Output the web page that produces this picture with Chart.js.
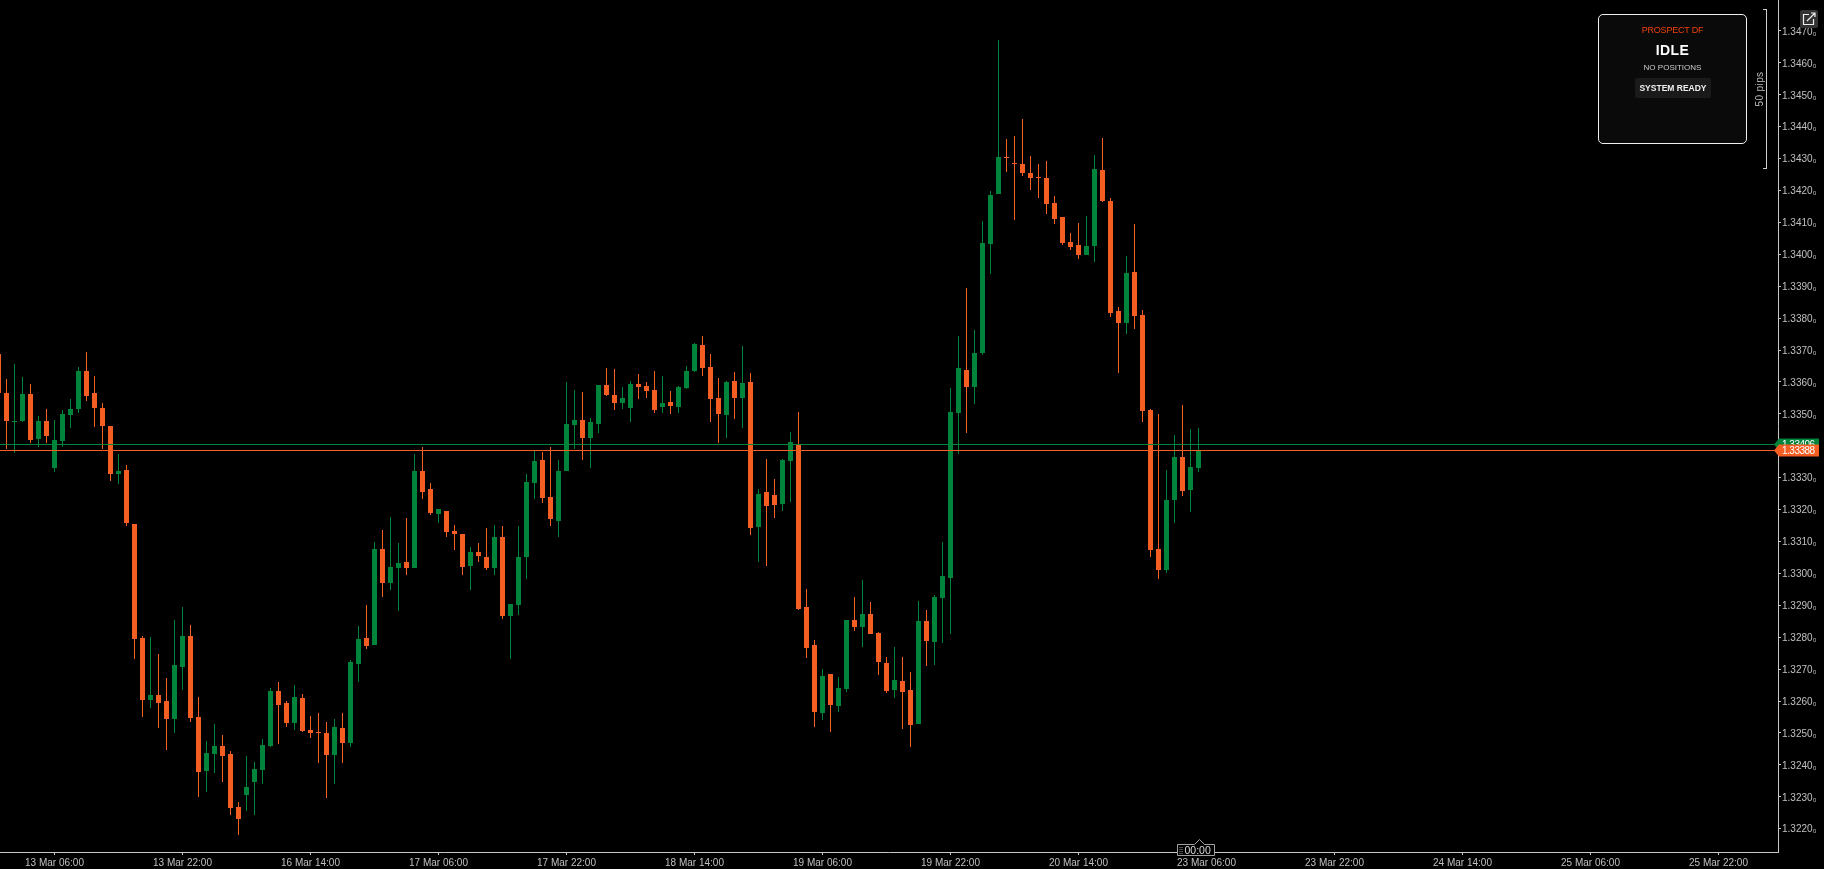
<!DOCTYPE html>
<html>
<head>
<meta charset="utf-8">
<title>Prospect DF</title>
<script src="https://cdn.jsdelivr.net/npm/chart.js@4/dist/chart.umd.js"></script>
<style>
  html, body { margin: 0; padding: 0; background: #000; overflow: hidden; }
  #wrap { position: relative; width: 1824px; height: 869px; font-family: "Liberation Sans", Arial, sans-serif; }
  canvas { display: block; }
  #panel { position: absolute; left: 1598px; top: 14px; width: 147px; height: 128px; background: #0a0a0a;
           border: 1px solid #f0f0f0; border-radius: 5px; text-align: center; }
  #panel div { position: absolute; left: 0; right: 0; white-space: nowrap; }
  #pTitle { top: 9px; font-size: 9px; letter-spacing: -.2px; color: #f0420c; line-height: 12px; }
  #pState { top: 27px; font-size: 14px; font-weight: bold; color: #fff; line-height: 16px; letter-spacing: .4px; }
  #pPos { top: 48px; font-size: 8px; color: #ccc; line-height: 10px; }
  #panel #pReady { left: 36px; right: auto; width: 76px; top: 63px; height: 20px; line-height: 20px; background: #1a1a1a;
            border-radius: 2px; font-size: 8.5px; font-weight: bold; color: #f0f0f0; }
  #bracket { position: absolute; left: 1763px; top: 9px; width: 3px; height: 158px; border: 1px solid #ccc; border-left: 0; }
  #pips { position: absolute; left: 1740px; top: 83px; width: 40px; text-align: center; font-size: 10px; color: #bbb;
          transform: rotate(-90deg); letter-spacing: .4px; line-height: 12px; }
  #expand { position: absolute; left: 1800px; top: 10px; }
</style>
</head>
<body>
<div id="wrap">
  <canvas id="chart" width="1824" height="869"></canvas>
  <div id="panel">
    <div id="pTitle">PROSPECT DF</div>
    <div id="pState">IDLE</div>
    <div id="pPos">NO POSITIONS</div>
    <div id="pReady">SYSTEM READY</div>
  </div>
  <div id="bracket"></div>
  <div id="pips">50 pips</div>
  <svg id="expand" width="18" height="18" viewBox="0 0 18 18">
    <rect width="18" height="18" rx="2" fill="#333"/>
    <path d="M9 4.5H3.5V14.5H13.5V9" fill="none" stroke="#eee" stroke-width="1.2"/>
    <path d="M7 11L14.5 3.5M11 3H15V7" fill="none" stroke="#eee" stroke-width="1.2"/>
  </svg>
</div>
<script>
const opens = [
  1.33687,1.33565,1.33474,1.33477,1.33562,1.33421,1.33477,1.33331,1.33415,1.33496,
  1.33515,1.33634,1.33565,1.33518,1.33462,1.33312,1.33324,1.33155,1.32798,1.32603,
  1.32619,1.32600,1.32543,1.32707,1.32804,1.32550,1.32381,1.32434,1.32459,1.32434,
  1.32268,1.32306,1.32347,1.32384,1.32459,1.32631,1.32594,1.32531,1.32609,1.32509,
  1.32503,1.32500,1.32431,1.32515,1.32469,1.32716,1.32798,1.32776,1.33076,1.32970,
  1.33017,1.33035,1.33017,1.33321,1.33265,1.33186,1.33196,1.33133,1.33124,1.33023,
  1.33067,1.33051,1.33017,1.33114,1.32867,1.32901,1.33051,1.33283,1.33356,1.33239,
  1.33164,1.33321,1.33465,1.33480,1.33424,1.33468,1.33590,1.33559,1.33534,1.33518,
  1.33593,1.33587,1.33574,1.33521,1.33537,1.33521,1.33581,1.33634,1.33716,1.33647,
  1.33549,1.33496,1.33603,1.33549,1.33599,1.33146,1.33255,1.33246,1.33217,1.33352,
  1.33403,1.32895,1.32776,1.32562,1.32685,1.32584,1.32638,1.32854,1.32832,1.32873,
  1.32814,1.32719,1.32635,1.32663,1.32635,1.32528,1.32851,1.32785,1.32923,1.32986,
  1.33502,1.33637,1.33584,1.33691,1.34032,1.34189,1.34305,1.34286,1.34283,1.34255,
  1.34242,1.34239,1.34161,1.34117,1.34038,1.34029,1.33998,1.34026,1.34264,1.34167,
  1.33822,1.33785,1.33944,1.33810,1.33512,1.33076,1.33010,1.33230,1.33365,1.33261,1.33331
];
const highs = [
  1.33700,1.33609,1.33656,1.33615,1.33593,1.33493,1.33515,1.33480,1.33512,1.33546,
  1.33647,1.33694,1.33618,1.33534,1.33462,1.33374,1.33340,1.33155,1.32804,1.32801,
  1.32747,1.32672,1.32854,1.32895,1.32839,1.32612,1.32475,1.32528,1.32494,1.32444,
  1.32284,1.32428,1.32409,1.32481,1.32641,1.32660,1.32600,1.32650,1.32622,1.32553,
  1.32562,1.32534,1.32543,1.32562,1.32729,1.32836,1.32901,1.33098,1.33136,1.33177,
  1.33095,1.33174,1.33374,1.33396,1.33283,1.33202,1.33196,1.33152,1.33124,1.33082,
  1.33095,1.33142,1.33152,1.33149,1.32904,1.33149,1.33312,1.33384,1.33381,1.33396,
  1.33356,1.33599,1.33574,1.33568,1.33487,1.33590,1.33644,1.33641,1.33584,1.33603,
  1.33625,1.33599,1.33634,1.33618,1.33571,1.33587,1.33650,1.33722,1.33744,1.33687,
  1.33612,1.33603,1.33631,1.33713,1.33628,1.33265,1.33359,1.33296,1.33359,1.33443,
  1.33506,1.32951,1.32792,1.32700,1.32685,1.32675,1.32854,1.32926,1.32979,1.32911,
  1.32817,1.32738,1.32769,1.32738,1.32691,1.32914,1.32886,1.32932,1.33098,1.33581,
  1.33744,1.33894,1.33763,1.34104,1.34198,1.34672,1.34362,1.34371,1.34424,1.34308,
  1.34283,1.34292,1.34183,1.34117,1.34067,1.34098,1.34120,1.34311,1.34365,1.34176,
  1.33835,1.33995,1.34095,1.33825,1.33515,1.33499,1.33324,1.33434,1.33528,1.33453,1.33456
];
const lows = [
  1.33543,1.33390,1.33378,1.33474,1.33409,1.33396,1.33409,1.33318,1.33396,1.33456,
  1.33502,1.33540,1.33459,1.33390,1.33290,1.33280,1.33149,1.32732,1.32550,1.32578,
  1.32515,1.32447,1.32500,1.32635,1.32534,1.32300,1.32315,1.32375,1.32347,1.32243,
  1.32180,1.32256,1.32243,1.32340,1.32456,1.32466,1.32518,1.32509,1.32503,1.32484,
  1.32406,1.32296,1.32340,1.32406,1.32456,1.32660,1.32763,1.32776,1.32926,1.32948,
  1.32883,1.32995,1.33017,1.33233,1.33183,1.33158,1.33114,1.33073,1.32995,1.32948,
  1.33035,1.33010,1.32995,1.32857,1.32732,1.32870,1.32983,1.33233,1.33220,1.33149,
  1.33114,1.33321,1.33390,1.33356,1.33331,1.33440,1.33556,1.33512,1.33515,1.33474,
  1.33546,1.33549,1.33502,1.33502,1.33499,1.33502,1.33578,1.33631,1.33618,1.33474,
  1.33409,1.33424,1.33484,1.33456,1.33120,1.33035,1.33023,1.33174,1.33196,1.33223,
  1.32886,1.32735,1.32518,1.32540,1.32503,1.32565,1.32628,1.32820,1.32769,1.32811,
  1.32682,1.32625,1.32609,1.32512,1.32456,1.32528,1.32710,1.32713,1.32782,1.32811,
  1.33374,1.33440,1.33531,1.33685,1.33938,1.34189,1.34258,1.34108,1.34245,1.34202,
  1.34176,1.34126,1.34095,1.34029,1.34013,1.33985,1.33998,1.33976,1.34164,1.33804,
  1.33628,1.33750,1.33766,1.33474,1.33051,1.32983,1.33001,1.33158,1.33242,1.33192,1.33318
];
const closes = [
  1.33565,1.33477,1.33477,1.33562,1.33418,1.33477,1.33431,1.33418,1.33499,1.33515,
  1.33634,1.33556,1.33518,1.33462,1.33312,1.33321,1.33158,1.32795,1.32603,1.32619,
  1.32594,1.32543,1.32713,1.32804,1.32547,1.32378,1.32437,1.32459,1.32428,1.32265,
  1.32231,1.32331,1.32387,1.32463,1.32631,1.32587,1.32531,1.32612,1.32506,1.32500,
  1.32500,1.32431,1.32518,1.32469,1.32722,1.32795,1.32772,1.33076,1.32970,1.33020,
  1.33032,1.33017,1.33321,1.33255,1.33189,1.33202,1.33130,1.33124,1.33020,1.33067,
  1.33054,1.33017,1.33114,1.32867,1.32904,1.33051,1.33287,1.33352,1.33236,1.33171,
  1.33321,1.33468,1.33480,1.33424,1.33474,1.33590,1.33559,1.33534,1.33549,1.33593,
  1.33584,1.33571,1.33512,1.33534,1.33525,1.33584,1.33634,1.33719,1.33644,1.33546,
  1.33499,1.33599,1.33549,1.33596,1.33142,1.33249,1.33211,1.33214,1.33356,1.33412,
  1.32889,1.32766,1.32565,1.32679,1.32587,1.32641,1.32854,1.32832,1.32873,1.32811,
  1.32722,1.32631,1.32666,1.32628,1.32525,1.32851,1.32789,1.32926,1.32992,1.33506,
  1.33644,1.33584,1.33691,1.34035,1.34186,1.34305,1.34302,1.34283,1.34255,1.34239,
  1.34239,1.34158,1.34111,1.34035,1.34023,1.33998,1.34026,1.34267,1.34167,1.33816,
  1.33785,1.33941,1.33807,1.33509,1.33073,1.33010,1.33230,1.33365,1.33258,1.33334,1.33388
];

const xTickLabels = ['13 Mar 06:00', '13 Mar 22:00', '16 Mar 14:00', '17 Mar 06:00', '17 Mar 22:00', '18 Mar 14:00',
  '19 Mar 06:00', '19 Mar 22:00', '20 Mar 14:00', '23 Mar 06:00', '23 Mar 22:00', '24 Mar 14:00', '25 Mar 06:00', '25 Mar 22:00'];
const xTickIndexes = [7, 23, 39, 55, 71, 87, 103, 119, 135, 151, 167, 183, 199, 215];
const yTicks = [1.322, 1.323, 1.324, 1.325, 1.326, 1.327, 1.328, 1.329, 1.33, 1.331, 1.332, 1.333, 1.334,
  1.335, 1.336, 1.337, 1.338, 1.339, 1.34, 1.341, 1.342, 1.343, 1.344, 1.345, 1.346, 1.347];

const askPrice = 1.33406;
const bidPrice = 1.33388;
const lastBarTime = '00:00';

const GREEN = '#00843b';
const ORANGE = '#f45e23';
const AXIS = '#c8c8c8';
const LABEL = '#c0c0c0';

const colors = closes.map((c, i) => (c >= opens[i] ? GREEN : ORANGE));

function priceTag(ctx, y, color, text) {
  ctx.fillStyle = color;
  ctx.beginPath();
  ctx.moveTo(1774, y);
  ctx.lineTo(1779, y - 6);
  ctx.lineTo(1819, y - 6);
  ctx.lineTo(1819, y + 6);
  ctx.lineTo(1779, y + 6);
  ctx.closePath();
  ctx.fill();
  ctx.fillStyle = '#fff';
  ctx.font = '10px "Liberation Sans"';
  ctx.letterSpacing = '-0.5px';
  ctx.textAlign = 'left';
  ctx.textBaseline = 'middle';
  ctx.fillText(text, 1782, y + 0.5);
  ctx.letterSpacing = '0px';
}

const chartOverlay = {
  id: 'chartOverlay',
  // snap candles to whole pixels, the original is not antialiased
  beforeDatasetsDraw(chart) {
    chart.getSortedVisibleDatasetMetas().forEach(meta => {
      meta.data.forEach(bar => {
        bar.y = Math.round(bar.y);
        bar.base = Math.round(bar.base);
        if (bar.y === bar.base) bar.base += 1;
      });
    });
  },
  afterDatasetsDraw(chart) {
    const ctx = chart.ctx;
    const yScale = chart.scales.y;
    const area = chart.chartArea;
    ctx.save();
    [[askPrice, GREEN], [bidPrice, ORANGE]].forEach(([price, color]) => {
      const y = Math.round(yScale.getPixelForValue(price));
      ctx.fillStyle = color;
      ctx.fillRect(area.left, y, area.right - area.left, 1);
    });
    ctx.restore();
  },
  afterDraw(chart) {
    const ctx = chart.ctx;
    const yScale = chart.scales.y;
    ctx.save();
    priceTag(ctx, Math.round(yScale.getPixelForValue(askPrice)) + 0.5, GREEN, askPrice.toFixed(5));
    priceTag(ctx, Math.round(yScale.getPixelForValue(bidPrice)) + 0.5, ORANGE, bidPrice.toFixed(5));

    // time marker under the last candle
    const x = Math.round(chart.scales.x.getPixelForValue(closes.length - 1)) + 0.5;
    ctx.beginPath();
    ctx.moveTo(x - 22, 844.5);
    ctx.lineTo(x - 5, 844.5);
    ctx.lineTo(x, 839.5);
    ctx.lineTo(x + 5, 844.5);
    ctx.lineTo(x + 15, 844.5);
    ctx.lineTo(x + 15, 855.5);
    ctx.lineTo(x - 22, 855.5);
    ctx.closePath();
    ctx.fillStyle = '#000';
    ctx.fill();
    ctx.strokeStyle = '#a0a0a0';
    ctx.lineWidth = 1;
    ctx.stroke();
    ctx.fillStyle = '#999';
    for (let r = 0; r < 4; r++) {
      ctx.fillRect(x - 20, 847 + r * 2, 1, 1);
      ctx.fillRect(x - 18, 847 + r * 2, 1, 1);
    }
    ctx.fillStyle = '#d8d8d8';
    ctx.font = '10.5px "Liberation Sans"';
    ctx.textAlign = 'left';
    ctx.textBaseline = 'middle';
    ctx.fillText(lastBarTime, x - 15, 851);
    ctx.restore();
  }
};

new Chart(document.getElementById('chart').getContext('2d'), {
  type: 'bar',
  data: {
    datasets: [
      {
        label: 'wick',
        data: closes.map((c, i) => ({ x: i, y: [lows[i], highs[i]] })),
        backgroundColor: colors,
        barThickness: 1,
        grouped: false,
        borderWidth: 0,
        inflateAmount: 0,
        order: 2
      },
      {
        label: 'body',
        data: closes.map((c, i) => ({ x: i, y: [opens[i], c] })),
        backgroundColor: colors,
        barThickness: 5,
        grouped: false,
        borderWidth: 0,
        inflateAmount: 0,
        order: 1
      }
    ]
  },
  plugins: [chartOverlay],
  options: {
    responsive: false,
    animation: false,
    devicePixelRatio: 1,
    events: [],
    layout: { padding: 0 },
    plugins: { legend: { display: false }, tooltip: { enabled: false } },
    scales: {
      x: {
        type: 'linear',
        offset: false,
        min: 0.1875,
        max: 222.4375,
        afterBuildTicks(scale) {
          scale.ticks = xTickIndexes.map(v => ({ value: v }));
        },
        afterFit(scale) {
          scale.height = 17;
          scale.paddingLeft = 0;
          scale.paddingRight = 0;
        },
        ticks: {
          autoSkip: false,
          maxRotation: 0,
          padding: 2,
          color: LABEL,
          font: { family: '"Liberation Sans"', size: 10 },
          callback: (v, i) => xTickLabels[i]
        },
        border: { color: AXIS },
        grid: { drawOnChartArea: false, offset: false, tickLength: 3, color: AXIS }
      },
      y: {
        position: 'right',
        min: 1.3212698,
        max: 1.3479715,
        afterBuildTicks(scale) {
          scale.ticks = yTicks.map(v => ({ value: v }));
        },
        afterFit(scale) {
          scale.width = 46;
          scale.paddingTop = 0;
          scale.paddingBottom = 0;
        },
        ticks: {
          autoSkip: false,
          padding: 1,
          labelOffset: 1,
          color: LABEL,
          font: { family: '"Liberation Sans"', size: 10 },
          callback: v => v.toFixed(4) + '\u2080'
        },
        border: { color: AXIS },
        grid: { drawOnChartArea: false, tickLength: 3, color: AXIS }
      }
    }
  }
});
</script>
</body>
</html>
